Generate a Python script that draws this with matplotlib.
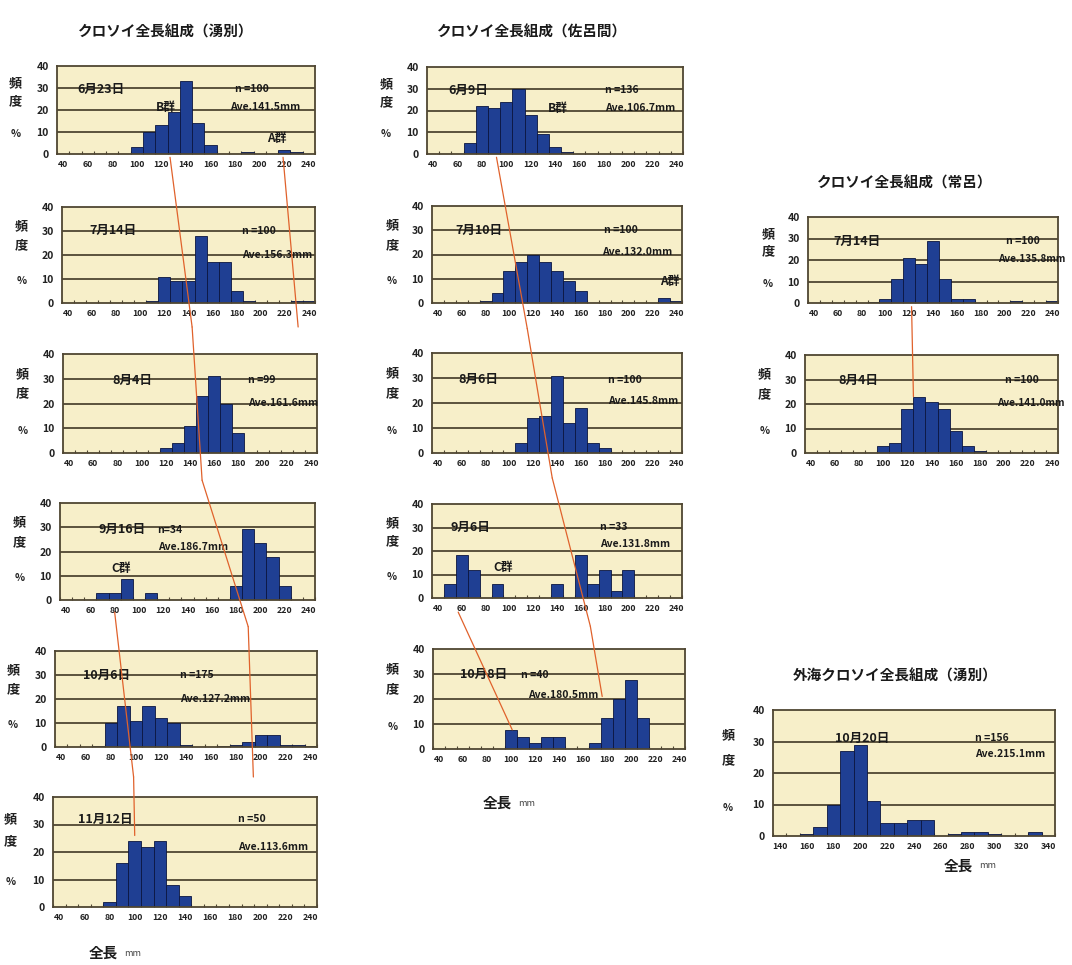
import matplotlib
matplotlib.use("Agg")
import matplotlib.pyplot as plt
import matplotlib.transforms as mtransforms
from matplotlib.patches import ConnectionPatch

plt.rcParams["font.family"] = ["Noto Sans CJK JP", "DejaVu Sans"]
plt.rcParams["font.weight"] = "bold"

W, H = 1072, 965

# 10 mm length classes (lower bound of each class)
inshore_classes = list(range(40, 250, 10))
offshore_classes = list(range(140, 350, 10))

# frequency (%) per length class
yubetsu_0623 = [0, 0, 0, 0, 0, 0, 3, 10, 13, 19, 33, 14, 4, 0, 0, 1, 0, 0, 2, 1, 0]
yubetsu_0714 = [0, 0, 0, 0, 0, 0, 0, 1, 11, 9, 9, 28, 17, 17, 5, 1, 0, 0, 0, 1, 1]
yubetsu_0804 = [0, 0, 0, 0, 0, 0, 0, 0, 2, 4, 11, 23, 31, 20, 8, 0, 0, 0, 0, 0, 0]
yubetsu_0916 = [0, 0, 0, 2.9, 2.9, 8.8, 0, 2.9, 0, 0, 0, 0, 0, 0, 5.9, 29.4, 23.5, 17.6, 5.9, 0, 0]
yubetsu_1006 = [0, 0, 0, 0.5, 10, 17, 11, 17, 12, 10, 1, 0, 0, 0.5, 1, 2, 5, 5, 1, 1, 0.5]
yubetsu_1112 = [0, 0, 0, 0, 2, 16, 24, 22, 24, 8, 4, 0, 0, 0, 0, 0, 0, 0, 0, 0, 0]

saroma_0609 = [0, 0, 0, 5, 22, 21, 24, 30, 18, 9, 3, 1, 0, 0, 0, 0, 0, 0, 0, 0, 0]
saroma_0710 = [0, 0, 0, 0, 1, 4, 13, 17, 20, 17, 13, 9, 5, 0, 0, 0, 0, 0, 0, 2, 1]
saroma_0806 = [0, 0, 0, 0, 0, 0, 0, 4, 14, 15, 31, 12, 18, 4, 2, 0, 0, 0, 0, 0, 0]
saroma_0906 = [0, 6.1, 18.2, 12.1, 0, 6.1, 0, 0, 0, 0, 6.1, 0, 18.2, 6.1, 12.1, 3.0, 12.1, 0, 0, 0, 0]
saroma_1008 = [0, 0, 0, 0, 0, 0, 7.5, 5, 2.5, 5, 5, 0, 0, 2.5, 12.5, 20, 27.5, 12.5, 0, 0, 0]

tokoro_0714 = [0, 0, 0, 0, 0, 0.5, 2, 11, 21, 18, 29, 11, 2, 2, 0, 0, 0, 1, 0, 0, 1]
tokoro_0804 = [0, 0, 0, 0, 0, 0, 3, 4, 18, 23, 21, 18, 9, 3, 1, 0, 0, 0, 0, 0, 0]

offshore_1020 = [0, 0, 0.6, 3, 10, 27, 29, 11, 4, 4, 5, 5, 0, 0.6, 1.3, 1.3, 0.6, 0, 0, 1.3, 0]

BG = "#f7efc9"
GRID = "#4f4632"
BAR = "#1f3f93"
BAR_EDGE = "#0b1640"
RED = "#e0622c"

# (classes, values, plot box in px: left, top, right, bottom, labels)
panels = [
    (inshore_classes, yubetsu_0623, (57, 66, 315, 154),
     [("6月23日", 0.08, 29.5, "left", 9), ("n =100", 0.69, 29.5, "left", 7.5),
      ("Ave.141.5mm", 0.67, 21.5, "left", 7.5), ("B群", 0.42, 21, "center", 8.5),
      ("A群", 0.85, 7, "center", 8.5)]),
    (inshore_classes, yubetsu_0714, (62, 207, 315, 303),
     [("7月14日", 0.11, 30.3, "left", 9), ("n =100", 0.71, 30, "left", 7.5),
      ("Ave.156.3mm", 0.71, 20, "left", 7.5)]),
    (inshore_classes, yubetsu_0804, (63, 354, 317, 453),
     [("8月4日", 0.196, 29.4, "left", 9), ("n =99", 0.73, 29.4, "left", 7.5),
      ("Ave.161.6mm", 0.73, 20, "left", 7.5)]),
    (inshore_classes, yubetsu_0916, (60, 503, 315, 600),
     [("9月16日", 0.15, 29, "left", 9), ("n=34", 0.38, 29, "left", 7.5),
      ("Ave.186.7mm", 0.385, 21.8, "left", 7.5), ("C群", 0.24, 12.8, "center", 8.5)]),
    (inshore_classes, yubetsu_1006, (55, 651, 317, 747),
     [("10月6日", 0.107, 30, "left", 9), ("n =175", 0.478, 30, "left", 7.5),
      ("Ave.127.2mm", 0.478, 20, "left", 7.5)]),
    (inshore_classes, yubetsu_1112, (53, 797, 317, 907),
     [("11月12日", 0.094, 32, "left", 9), ("n =50", 0.70, 32, "left", 7.5),
      ("Ave.113.6mm", 0.70, 22, "left", 7.5)]),
    (inshore_classes, saroma_0609, (427, 67, 683, 154),
     [("6月9日", 0.083, 29.4, "left", 9), ("n =136", 0.695, 29.4, "left", 7.5),
      ("Ave.106.7mm", 0.695, 21, "left", 7.5), ("B群", 0.51, 21, "center", 8.5)]),
    (inshore_classes, saroma_0710, (432, 206, 682, 303),
     [("7月10日", 0.094, 30, "left", 9), ("n =100", 0.686, 30, "left", 7.5),
      ("Ave.132.0mm", 0.68, 21, "left", 7.5), ("A群", 0.95, 8.7, "center", 8.5)]),
    (inshore_classes, saroma_0806, (432, 353, 682, 453),
     [("8月6日", 0.107, 29.3, "left", 9), ("n =100", 0.706, 29.3, "left", 7.5),
      ("Ave.145.8mm", 0.706, 21, "left", 7.5)]),
    (inshore_classes, saroma_0906, (432, 504, 682, 598),
     [("9月6日", 0.073, 30, "left", 9), ("n =33", 0.673, 30, "left", 7.5),
      ("Ave.131.8mm", 0.673, 23, "left", 7.5), ("C群", 0.286, 12.8, "center", 8.5)]),
    (inshore_classes, saroma_1008, (433, 649, 685, 749),
     [("10月8日", 0.107, 29.7, "left", 9), ("n =40", 0.35, 29.7, "left", 7.5),
      ("Ave.180.5mm", 0.377, 21.7, "left", 7.5)]),
    (inshore_classes, tokoro_0714, (808, 217, 1058, 303),
     [("7月14日", 0.10, 28.7, "left", 9), ("n =100", 0.79, 28.7, "left", 7.5),
      ("Ave.135.8mm", 0.76, 20.5, "left", 7.2)]),
    (inshore_classes, tokoro_0804, (805, 355, 1058, 453),
     [("8月4日", 0.13, 29.8, "left", 9), ("n =100", 0.79, 29.8, "left", 7.5),
      ("Ave.141.0mm", 0.76, 20.3, "left", 7.2)]),
    (offshore_classes, offshore_1020, (773, 710, 1055, 836),
     [("10月20日", 0.22, 31, "left", 9), ("n =156", 0.716, 31, "left", 7.5),
      ("Ave.215.1mm", 0.716, 26, "left", 7.5)]),
]

# cohort tracks: (panel index, length mm, % level)
tracks = [
    [(0, 127, -1.5), (1, 143, -10), (2, 150, -11), (3, 190, -11), (4, 194, -12.5)],
    [(0, 219, -1.5), (1, 231, -10)],
    [(3, 80, -5), (4, 98, -12.5), (5, 100, 26)],
    [(6, 92, -1.5), (7, 115, -10.5), (8, 136, -10), (9, 168, -12), (10, 176, 21)],
    [(9, 57, -6), (10, 101, 7.7)],
    [(11, 122, -1.7), (12, 125, 23)],
]

fig = plt.figure(figsize=(W / 100, H / 100), dpi=100)
fig.patch.set_facecolor("white")


def px(x, y):
    return x / W, 1 - y / H


axes = []
for classes, values, (l, t, r, b), labels in panels:
    ax = fig.add_axes([l / W, 1 - b / H, (r - l) / W, (b - t) / H])
    ax.set_facecolor(BG)
    ax.bar(classes, values, width=10, color=BAR, edgecolor=BAR_EDGE,
           linewidth=0.6, zorder=3)
    ax.set_xlim(classes[0] - 5, classes[-1] + 5)
    ax.set_ylim(0, 40)
    ax.set_yticks([0, 10, 20, 30, 40])
    ax.set_xticks(classes[::2])
    ax.set_xticklabels([str(c) for c in classes[::2]])
    ax.set_xticks([c - 5 for c in classes] + [classes[-1] + 5], minor=True)
    ax.tick_params(axis="x", which="major", length=0, pad=4, labelsize=6.3,
                   colors="#222222")
    ax.tick_params(axis="x", which="minor", length=2, direction="in",
                   color=GRID, width=0.8)
    ax.tick_params(axis="y", length=0, pad=6, labelsize=7.5, colors="#222222")
    for lab in ax.get_xticklabels() + ax.get_yticklabels():
        lab.set_fontweight("bold")
    for yy in (10, 20, 30):
        ax.axhline(yy, color=GRID, linewidth=1.3, zorder=1)
    for sp in ax.spines.values():
        sp.set_color(GRID)
        sp.set_linewidth(1.3)
        sp.set_zorder(4)

    trans = mtransforms.blended_transform_factory(ax.transAxes, ax.transData)
    for ch, yy in (("頻", 32), ("度", 24)):
        ax.text(-0.16, yy, ch, transform=trans, ha="center", va="center",
                fontsize=9.5, fontweight="bold", color="#222222")
    ax.text(-0.16, 9, "%", transform=trans, ha="center", va="center",
            fontsize=7.5, fontweight="bold", color="#222222")

    for text, fx, yy, ha, size in labels:
        ax.text(fx, yy, text, transform=trans, ha=ha, va="center",
                fontsize=size, fontweight="bold", color="#1a1a1a", zorder=6,
                clip_on=False)
    axes.append(ax)

# growth tracks across the panels
for track in tracks:
    for (ia, xa, ya), (ib, xb, yb) in zip(track[:-1], track[1:]):
        con = ConnectionPatch(xyA=(xa, ya), coordsA=axes[ia].transData,
                              xyB=(xb, yb), coordsB=axes[ib].transData,
                              color=RED, linewidth=0.9, zorder=10)
        fig.add_artist(con)

titles = [
    ("クロソイ全長組成（湧別）", 166, 32),
    ("クロソイ全長組成（佐呂間）", 532, 32),
    ("クロソイ全長組成（常呂）", 905, 183),
    ("外海クロソイ全長組成（湧別）", 895, 676),
]
for text, x, y in titles:
    fig.text(*px(x, y), text, ha="center", va="center", fontsize=10.5,
             fontweight="bold", color="#1a1a1a")

for x, y in ((103, 953), (497, 803), (958, 866)):
    fig.text(*px(x, y), "全長", ha="center", va="center", fontsize=10.5,
             fontweight="bold", color="#1a1a1a")
    fig.text(*px(x + 30, y), "mm", ha="center", va="center", fontsize=6.5,
             fontweight="normal", color="#444444")

fig.savefig("out.png", dpi=100, facecolor="white")
